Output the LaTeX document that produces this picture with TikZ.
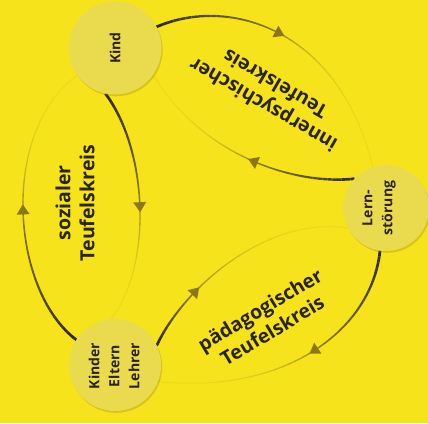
\documentclass[tikz,border=0pt]{standalone}
\usepackage{fontspec}
\setmainfont{Open Sans}
\usetikzlibrary{calc,shadows}
\definecolor{bg}{HTML}{F6E31C}
\definecolor{circfill}{HTML}{EADB4E}
\definecolor{circshadow}{HTML}{9C8C10}
\definecolor{linec}{HTML}{2A2614}
\definecolor{arrowc}{HTML}{8A7814}
\definecolor{textc}{HTML}{2A2510}
\tikzset{
  bubble/.style={circle, fill=circfill, minimum size=#1, inner sep=0pt, outer sep=0pt,
    drop shadow={shadow xshift=1.2pt, shadow yshift=-1.8pt, opacity=0.35, fill=circshadow}},
  bubtext/.style={text=textc, font=\bfseries\fontsize{14}{20}\selectfont, align=center, rotate=90, inner sep=0pt},
  looplabel/.style={text=textc, font=\bfseries\fontsize{19.5}{24}\selectfont, align=center, inner sep=0pt},
}
\newcommand{\fadearc}[5]{%
  \foreach \i in {0,...,40}{%
    \pgfmathsetmacro{\fp}{\i/40}%
    \path #1 .. controls #2 and #3 .. #4 coordinate[pos=\fp] (fa\i);}
  \pgfmathsetmacro{\fpb}{#5-0.03}%
  \path #1 .. controls #2 and #3 .. #4 coordinate[pos=#5] (fah) coordinate[pos=\fpb] (fab);
  \foreach \i [evaluate=\i as \j using int(\i+1)] in {0,...,39}{%
    \pgfmathsetmacro{\fat}{\i/40+0.0125}%
    \pgfmathsetmacro{\fop}{\fat<#5 ? 1-0.5*\fat/#5 : 0.05+0.4*(1-(\fat-#5)/(1-#5))^3}%
    \pgfmathsetmacro{\flw}{\fat<#5 ? 2.8-1.4*\fat/#5 : 1.4-0.5*(\fat-#5)/(1-#5)}%
    \draw[linec, line width=\flw pt, draw opacity=\fop] (fa\i) -- (fa\j);}
  \coordinate (fbc) at ($(fah)!5pt!(fab)$);
  \fill[arrowc] ($(fah)!-5pt!(fab)$) -- ($(fbc)!6.5pt!90:(fah)$) -- ($(fbc)!6.5pt!-90:(fah)$) -- cycle;
}
\begin{document}
\begin{tikzpicture}[x=1pt, y=1pt]
\fill[bg] (0,0) rectangle (428,-423);
\useasboundingbox (0,0) rectangle (428,-423);
% circle positions (nodes drawn later, coordinates needed first)
\path (115,-48) coordinate (kindc) (115,-365) coordinate (kelc) (386,-208) coordinate (lernc);
\node[circle, minimum size=93pt, inner sep=0pt, outer sep=0pt] (kind) at (kindc) {};
\node[circle, minimum size=92pt, inner sep=0pt, outer sep=0pt] (kel) at (kelc) {};
\node[circle, minimum size=86pt, inner sep=0pt, outer sep=0pt] (lern) at (lernc) {};
% loops
\fadearc{(kind.258)}{(148,-150)}{(153,-265)}{(kel.95)}{0.5}
\fadearc{(kel.147)}{(10,-290)}{(0,-130)}{(kind.216)}{0.5}
\fadearc{(kind.27)}{(230,5)}{(340,-30)}{(lern.108)}{0.5}
\fadearc{(lern.137)}{(300,-185)}{(205,-160)}{(kind.325)}{0.5}
\fadearc{(kel.25)}{(185,-285)}{(270,-215)}{(lern.208)}{0.3}
\fadearc{(lern.262)}{(372,-330)}{(285,-395)}{(kel.339)}{0.5}
% circles
\node[bubble=93pt] (kindb) at (kindc) {};
\node[bubble=92pt] (kelb) at (kelc) {};
\node[bubble=86pt] (lernb) at (lernc) {};
\node[bubtext] (kindt) at (115,-48) {Kind};
\node[bubtext] (kelt) at (114,-366) {Kinder\\Eltern\\Lehrer};
\node[bubtext] (lernt) at (379,-208) {Lern-\\störung};
% loop labels
\node[looplabel, rotate=90] (soz) at (75,-203) {sozialer\\Teufelskreis};
\node[looplabel, rotate=150] (inn) at (269,-95) {innerpsychischer\\Teufelskreis};
\node[looplabel, rotate=31] (pad) at (266,-320) {pädagogischer\\Teufelskreis};
\end{tikzpicture}
\end{document}
